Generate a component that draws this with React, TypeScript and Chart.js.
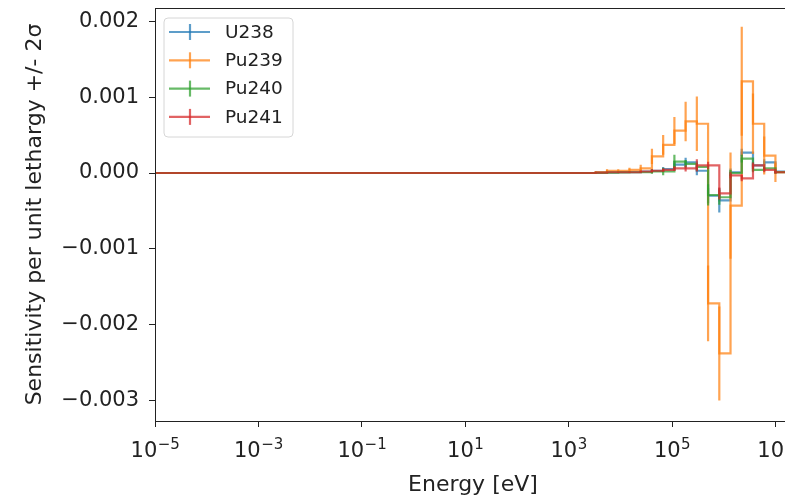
import React, { useEffect, useRef } from 'react';
import { Chart, registerables } from 'chart.js';

Chart.register(...registerables);

// ECCO 33-group lower boundaries (eV) plus the top boundary
const energyBounds = [
  1e-5, 0.1, 0.54, 4.0, 8.315, 13.71, 22.6, 40.17, 67.9, 91.66, 148.6, 304.3, 454.0, 748.5,
  1234, 2035, 3355, 5531, 9119, 15030, 24790, 40870, 67380, 111100, 183200, 302000, 497900,
  820900, 1353000, 2231000, 3679000, 6065000, 10000000, 19640000,
];

const seriesNames = ['U238', 'Pu239', 'Pu240', 'Pu241'];

const u238Vals = [
  0, 0, 0, 0, 0, 0, 0, 0, 0, 0, 0, 0, 0, 0, 0, 0,
  0.000005, 0.000008, 0.00001, 0.00001, 0.00002, 0.00003, 0.00005, 0.00011, 0.00014, 0.00003,
  -0.0003, -0.00036, 0.00001, 0.00027, 0.0001, 0.00014, 0.00002,
];
const u238Err = [
  0, 0, 0, 0, 0, 0, 0, 0, 0, 0, 0, 0, 0, 0, 0, 0,
  0.000002, 0.000003, 0.000004, 0.000005, 0.00001, 0.00002, 0.00003, 0.00005, 0.00006, 0.00006,
  0.0001, 0.00016, 0.00005, 0.00005, 0.00004, 0.00004, 0.00002,
];

const pu239Vals = [
  0, 0, 0, 0, 0, 0, 0, 0, 0, 0, 0, 0, 0, 0, 0, 0,
  0.00001, 0.00003, 0.00003, 0.00004, 0.00006, 0.00022, 0.00037, 0.00056, 0.00068, 0.00065,
  -0.00172, -0.00238, -0.00043, 0.00121, 0.00065, 0.00023, 0.00001,
];
const pu239Err = [
  0, 0, 0, 0, 0, 0, 0, 0, 0, 0, 0, 0, 0, 0, 0, 0,
  0.00001, 0.00002, 0.00002, 0.00003, 0.00005, 0.0001, 0.00013, 0.00018, 0.00026, 0.00036,
  0.0005, 0.00062, 0.0007, 0.00072, 0.0004, 0.00025, 0.00013,
];

const pu240Vals = [
  0, 0, 0, 0, 0, 0, 0, 0, 0, 0, 0, 0, 0, 0, 0, 0,
  0.000003, 0.000005, 0.000008, 0.00001, 0.00001, 0.00002, 0.00002, 0.00015, 0.00012, 0.00008,
  -0.00029, -0.00032, 0.0, 0.00019, 0.00004, 0.00006, 0.00001,
];
const pu240Err = [
  0, 0, 0, 0, 0, 0, 0, 0, 0, 0, 0, 0, 0, 0, 0, 0,
  0.000002, 0.000003, 0.000004, 0.000005, 0.00001, 0.00003, 0.00005, 0.00009, 0.00005, 0.00005,
  0.00014, 0.0001, 0.00004, 0.00005, 0.00003, 0.00003, 0.00002,
];

const pu241Vals = [
  0, 0, 0, 0, 0, 0, 0, 0, 0, 0, 0, 0, 0, 0, 0, 0,
  0.000004, 0.00001, 0.00001, 0.00001, 0.00002, 0.00003, 0.00004, 0.00006, 0.00006, 0.0001,
  0.0001, -0.00027, -0.00003, -0.00007, 0.0001, 0.00004, 0.00001,
];
const pu241Err = [
  0, 0, 0, 0, 0, 0, 0, 0, 0, 0, 0, 0, 0, 0, 0, 0,
  0.000002, 0.000003, 0.000004, 0.000005, 0.00001, 0.00002, 0.00002, 0.00003, 0.00004, 0.00008,
  0.00005, 0.00008, 0.00004, 0.00004, 0.00004, 0.00003, 0.00002,
];

const seriesVals = [u238Vals, pu239Vals, pu240Vals, pu241Vals];
const seriesErr = [u238Err, pu239Err, pu240Err, pu241Err];
const seriesColors = [
  'rgba(31,119,180,0.72)',
  'rgba(255,127,14,0.72)',
  'rgba(44,160,44,0.72)',
  'rgba(214,39,40,0.72)',
];

const xTicks = [1e-5, 1e-3, 1e-1, 1e1, 1e3, 1e5, 1e7];
const yTicks = [-0.003, -0.002, -0.001, 0, 0.001, 0.002];

const X_MIN = 1e-5;
const X_MAX = 2e7;
const Y_MIN = -0.003272;
const Y_MAX = 0.002177;

const FONT = "'DejaVu Sans', sans-serif";
const INK = '#222222';

const fmtExp = (v: number) => {
  const e = Math.round(Math.log10(v));
  return e < 0 ? '\u2212' + String(-e) : String(e);
};
const fmtY = (v: number) => {
  const s = Math.abs(v) < 1e-12 ? '0.000' : Math.abs(v).toFixed(3);
  return v < -1e-12 ? '\u2212' + s : s;
};

const errorBarPlugin = {
  id: 'errorBars',
  afterDatasetDraw(chart: any, args: any) {
    const i = args.index;
    const vals = seriesVals[i];
    const errs = seriesErr[i];
    const xs = chart.scales.x;
    const ys = chart.scales.y;
    const area = chart.chartArea;
    const ctx = chart.ctx;
    ctx.save();
    ctx.beginPath();
    ctx.rect(area.left, area.top, area.right - area.left, area.bottom - area.top);
    ctx.clip();
    ctx.strokeStyle = seriesColors[i];
    ctx.lineWidth = 2.2;
    ctx.beginPath();
    for (let j = 0; j < vals.length; j++) {
      if (!errs[j]) continue;
      const px = xs.getPixelForValue(energyBounds[j]);
      ctx.moveTo(px, ys.getPixelForValue(vals[j] - errs[j]));
      ctx.lineTo(px, ys.getPixelForValue(vals[j] + errs[j]));
    }
    ctx.stroke();
    ctx.restore();
  },
};

const framePlugin = {
  id: 'frame',
  afterDatasetsDraw(chart: any) {
    const { ctx, chartArea: a } = chart;
    ctx.save();
    ctx.strokeStyle = INK;
    ctx.lineWidth = 1;
    ctx.strokeRect(a.left + 0.5, a.top + 0.5, a.right - a.left, a.bottom - a.top);
    ctx.restore();
  },
};

// power-of-ten tick labels with a mathtext-like superscript
const powLabelPlugin = {
  id: 'powLabels',
  afterDraw(chart: any) {
    const { ctx, chartArea: a } = chart;
    const xs = chart.scales.x;
    ctx.save();
    ctx.fillStyle = INK;
    ctx.textBaseline = 'alphabetic';
    ctx.textAlign = 'left';
    const baseY = a.bottom + 36;
    const supY = baseY - 8;
    for (const t of xTicks) {
      const px = xs.getPixelForValue(t);
      ctx.font = `21px ${FONT}`;
      const wBase = ctx.measureText('10').width;
      const exp = fmtExp(t);
      ctx.font = `15px ${FONT}`;
      const wExp = ctx.measureText(exp).width;
      const x0 = px - (wBase + wExp) / 2;
      ctx.font = `21px ${FONT}`;
      ctx.fillText('10', x0, baseY);
      ctx.font = `15px ${FONT}`;
      ctx.fillText(exp, x0 + wBase + 0.5, supY);
    }
    ctx.restore();
  },
};

const legendPlugin = {
  id: 'errLegend',
  afterDraw(chart: any) {
    const { ctx, chartArea: a } = chart;
    const x0 = a.left + 9;
    const y0 = a.top + 10;
    const w = 129;
    const h = 119;
    const r = 4;
    ctx.save();
    ctx.beginPath();
    ctx.moveTo(x0 + r, y0);
    ctx.lineTo(x0 + w - r, y0);
    ctx.quadraticCurveTo(x0 + w, y0, x0 + w, y0 + r);
    ctx.lineTo(x0 + w, y0 + h - r);
    ctx.quadraticCurveTo(x0 + w, y0 + h, x0 + w - r, y0 + h);
    ctx.lineTo(x0 + r, y0 + h);
    ctx.quadraticCurveTo(x0, y0 + h, x0, y0 + h - r);
    ctx.lineTo(x0, y0 + r);
    ctx.quadraticCurveTo(x0, y0, x0 + r, y0);
    ctx.closePath();
    ctx.fillStyle = 'rgba(255,255,255,0.85)';
    ctx.fill();
    ctx.strokeStyle = '#d6d6d6';
    ctx.lineWidth = 1;
    ctx.stroke();
    ctx.font = `18.5px ${FONT}`;
    ctx.textBaseline = 'middle';
    ctx.textAlign = 'left';
    for (let i = 0; i < seriesNames.length; i++) {
      const cy = y0 + 14 + i * 28.3;
      ctx.strokeStyle = seriesColors[i];
      ctx.lineWidth = 2.2;
      ctx.beginPath();
      ctx.moveTo(x0 + 5, cy);
      ctx.lineTo(x0 + 46, cy);
      ctx.stroke();
      ctx.beginPath();
      ctx.moveTo(x0 + 26, cy - 8);
      ctx.lineTo(x0 + 26, cy + 8);
      ctx.stroke();
      ctx.fillStyle = INK;
      ctx.fillText(seriesNames[i], x0 + 61, cy + 1);
    }
    ctx.restore();
  },
};

export default function App() {
  const ref = useRef<HTMLCanvasElement | null>(null);

  useEffect(() => {
    if (!ref.current) return;
    const datasets = seriesNames.map((name, i) => ({
      label: name,
      data: energyBounds.map((x, j) => ({
        x,
        y: seriesVals[i][Math.min(j, seriesVals[i].length - 1)],
      })),
      borderColor: seriesColors[i],
      backgroundColor: seriesColors[i],
      borderWidth: 2.2,
      pointRadius: 0,
      stepped: true as const,
      fill: false,
      order: seriesNames.length - i,
    }));

    const chart = new Chart(ref.current, {
      type: 'line',
      data: { datasets },
      options: {
        animation: false,
        responsive: false,
        maintainAspectRatio: false,
        events: [],
        layout: { padding: { top: 8, right: 0, left: 0, bottom: 0 } },
        plugins: {
          legend: { display: false },
          tooltip: { enabled: false },
        },
        scales: {
          x: {
            type: 'logarithmic',
            min: X_MIN,
            max: X_MAX,
            afterBuildTicks: (s: any) => {
              s.ticks = xTicks.map((v) => ({ value: v }));
            },
            afterFit: (s: any) => {
              s.height = 79;
              s.paddingLeft = 0;
              s.paddingRight = 0;
              s.paddingTop = 0;
              s.paddingBottom = 0;
            },
            grid: {
              display: true,
              drawOnChartArea: false,
              drawTicks: true,
              tickLength: 6,
              tickWidth: 1,
              tickColor: INK,
            },
            border: { display: true, color: INK, width: 1 },
            ticks: {
              display: false,
              autoSkip: false,
              maxRotation: 0,
            },
            title: {
              display: true,
              text: 'Energy [eV]',
              color: INK,
              font: { family: FONT, size: 22 },
              padding: { top: 0, bottom: 2 },
            },
          },
          y: {
            type: 'linear',
            min: Y_MIN,
            max: Y_MAX,
            afterBuildTicks: (s: any) => {
              s.ticks = yTicks.map((v) => ({ value: v }));
            },
            afterFit: (s: any) => {
              s.width = 155;
              s.paddingLeft = 0;
              s.paddingRight = 0;
              s.paddingTop = 0;
              s.paddingBottom = 0;
            },
            grid: {
              display: true,
              drawOnChartArea: false,
              drawTicks: true,
              tickLength: 6,
              tickWidth: 1,
              tickColor: INK,
            },
            border: { display: true, color: INK, width: 1 },
            ticks: {
              autoSkip: false,
              padding: 10,
              color: INK,
              font: { family: FONT, size: 21 },
              callback: (v: any) => fmtY(Number(v)),
            },
            title: {
              display: true,
              text: 'Sensitivity per unit lethargy +/- 2\u03C3',
              color: INK,
              font: { family: FONT, size: 22 },
              padding: { top: 22, bottom: 0 },
            },
          },
        },
      },
      plugins: [errorBarPlugin, framePlugin, powLabelPlugin, legendPlugin],
    });
    return () => chart.destroy();
  }, []);

  return (
    <div
      style={{
        position: 'fixed',
        left: 0,
        top: 0,
        width: 785,
        height: 500,
        overflow: 'hidden',
        background: '#ffffff',
      }}
    >
      <canvas ref={ref} width={791} height={500} style={{ width: 791, height: 500, display: 'block' }} />
    </div>
  );
}
